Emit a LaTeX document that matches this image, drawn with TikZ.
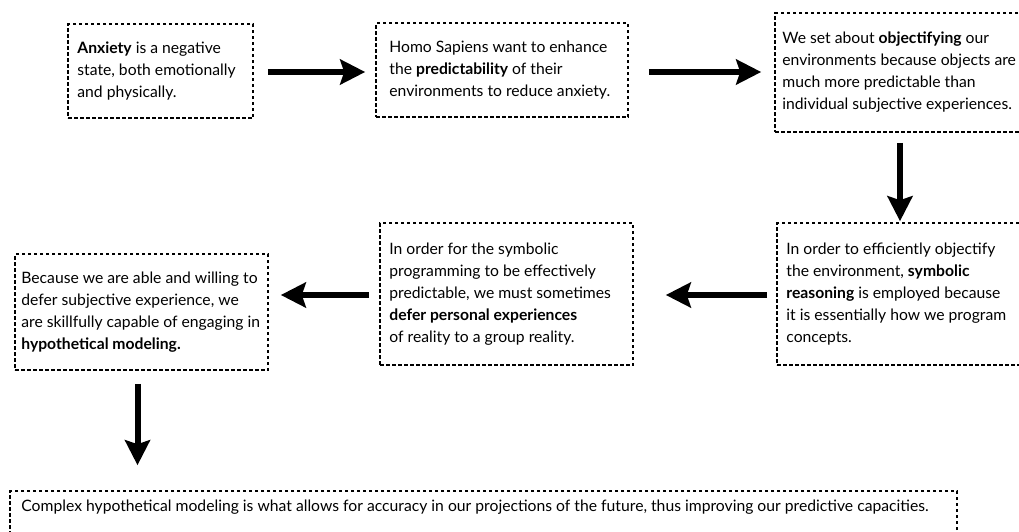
\documentclass[tikz,border=0pt]{standalone}
\usepackage{fontspec}
\setmainfont{Lato}
\usetikzlibrary{arrows.meta}
\begin{document}
\begin{tikzpicture}[x=1pt,y=-1pt,
  box/.style={draw, line width=1.6pt, dash pattern=on 3.5pt off 2.5pt, rectangle, inner sep=0pt},
  txt/.style={anchor=west, align=left, inner sep=0pt, font=\fontsize{15.7}{22}\selectfont},
  arr/.style={line width=6pt, -{Stealth[length=25pt,width=25pt,inset=4pt]}}
]
\clip (0,0) rectangle (1019,531);
\fill[white] (0,0) rectangle (1019,531);
% boxes
\node[box, minimum width=185pt, minimum height=94pt] (b1) at (160.5,71) {};
\node[box, minimum width=252pt, minimum height=94pt] (b2) at (502,70) {};
\node[box, minimum width=260pt, minimum height=119pt] (b3) at (905,72.5) {};
\node[box, minimum width=260pt, minimum height=142pt] (b4) at (907,294) {};
\node[box, minimum width=253pt, minimum height=142pt] (b5) at (506.5,294) {};
\node[box, minimum width=253pt, minimum height=116pt] (b6) at (141.5,312) {};
\node[box, minimum width=947pt, minimum height=70pt] (b7) at (483.5,526) {};
% texts
\node[txt] (t1) at ([xshift=10pt]b1.west) {\textbf{Anxiety} is a negative\\state, both emotionally\\and physically.};
\node[txt] (t2) at ([xshift=14pt]b2.west) {Homo Sapiens want to enhance\\the \textbf{predictability} of their\\environments to reduce anxiety.};
\node[txt] (t3) at ([xshift=8pt]b3.west) {We set about \textbf{objectifying} our\\environments because objects are\\much more predictable than\\individual subjective experiences.};
\node[txt] (t4) at ([xshift=10pt]b4.west) {In order to efficiently objectify\\the environment, \textbf{symbolic}\\\textbf{reasoning} is employed because\\it is essentially how we program\\concepts.};
\node[txt] (t5) at ([xshift=10pt]b5.west) {In order for the symbolic\\programming to be effectively\\predictable, we must sometimes\\\textbf{defer personal experiences}\\of reality to a group reality.};
\node[txt] (t6) at ([xshift=7pt]b6.west) {Because we are able and willing to\\defer subjective experience, we\\are skillfully capable of engaging in\\\textbf{hypothetical modeling.}};
\node[txt, anchor=base west] (t7) at ([xshift=12pt,yshift=-21pt]b7.north west) {Complex hypothetical modeling is what allows for accuracy in our projections of the future, thus improving our predictive capacities.};
% arrows
\draw[arr, shorten <=14pt, shorten >=10pt] ([yshift=-1pt]b1.east) -- ([yshift=-1pt]b1.east -| b2.west);
\draw[arr, shorten <=20pt, shorten >=13pt] ([yshift=-2pt]b2.east) -- ([yshift=-2pt]b2.east -| b3.west);
\draw[arr, shorten <=10pt, shorten >=1pt] ([xshift=-5pt]b3.south) -- ([xshift=-5pt]b3.south |- b4.north);
\draw[arr, shorten <=9pt, shorten >=32pt] ([yshift=-1pt]b4.west) -- ([yshift=-1pt]b4.west -| b5.east);
\draw[arr, shorten <=10pt, shorten >=12pt] ([yshift=-1pt]b5.west) -- ([yshift=-1pt]b5.west -| b6.east);
\draw[arr, shorten <=13pt, shorten >=25pt] ([xshift=-4pt]b6.south) -- ([xshift=-4pt]b6.south |- b7.north);
\end{tikzpicture}
\end{document}
